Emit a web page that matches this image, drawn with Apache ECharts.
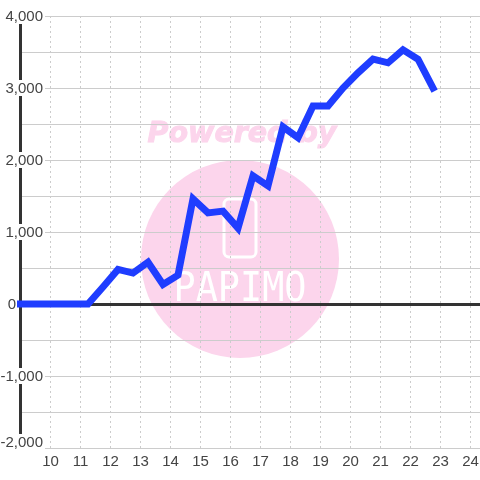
<!DOCTYPE html>
<html><head><meta charset="utf-8">
<style>html,body{margin:0;padding:0;background:#fff}#c{width:480px;height:480px}</style>
<script src="https://cdn.jsdelivr.net/npm/echarts@6/dist/echarts.min.js"></script>
</head><body><div id="c"></div>
<script>
const hours = [9,9.75,10.25,10.75,11.25,11.75,12.25,12.75,13.25,13.75,14.25,14.75,15.25,15.75,16.25,16.75,17.25,17.75,18.25,18.75,19.25,19.75,20.25,20.75,21.25,21.75,22.25,22.75];
const values = [0,0,0,0,0,236,480,430,580,270,400,1460,1265,1290,1055,1780,1640,2460,2310,2750,2750,3000,3210,3400,3350,3530,3400,3000];
const watermarkTop = 'Powered by';
const watermarkBrand = 'PAPIMO';
const fmt = v => v.toLocaleString('en-US');
const chart = echarts.init(document.getElementById('c'), null, {renderer:'canvas'});
const pink = '#fcd5ec';
chart.setOption({
  animation:false,
  backgroundColor:'#fff',
  grid:{left:20.5,right:0,top:16,bottom:32,outerBoundsMode:'none',containLabel:false},
  graphic:[
    {type:'circle',z:-10,shape:{cx:240,cy:259,r:99},style:{fill:pink},silent:true},
    {type:'text',z:-10,x:242,y:135,silent:true,style:{text:watermarkTop,fill:pink,stroke:pink,lineWidth:1,align:'center',verticalAlign:'middle',font:'italic bold 28.5px "DejaVu Sans"'}},
    {type:'rect',z:-9,shape:{x:224,y:199,width:32,height:58,r:5},style:{fill:'none',stroke:'#fff',lineWidth:3},silent:true},
    {type:'text',z:-9,x:240,y:291,scaleX:1.15,scaleY:1.25,silent:true,style:{text:watermarkBrand,fill:'#fff',align:'center',verticalAlign:'middle',font:'200 32px "DejaVu Sans Mono"'}}
  ],
  xAxis:{type:'value',min:9,max:9+459.5/30,interval:1,
    axisLine:{show:false},axisTick:{show:false},
    splitLine:{show:true,lineStyle:{color:'#ccc',type:[2,3],width:1}},
    axisLabel:{color:'#444',fontSize:15,fontFamily:'"Liberation Sans"',margin:6,
      showMaxLabel:false,
      formatter:v=>(v===9||v%1!==0)?'':String(v)}},
  yAxis:{type:'value',min:-2000,max:4000,interval:500,
    axisLine:{show:true,onZero:false,lineStyle:{color:'#333',width:3}},axisTick:{show:false},
    splitLine:{show:true,lineStyle:{color:'#ccc',width:1.2}},
    z:3,
    axisLabel:{color:'#444',margin:-24.5,align:'right',fontSize:15,fontFamily:'"Liberation Sans"',
      formatter:v=>v%1000!==0?'':(v===0?'{zero|0}':(v===-2000?'{low|'+fmt(v)+'}':'{std|'+fmt(v)+'}')),
      rich:{
        std:{backgroundColor:'#fff',padding:[1,2,0,6],fontSize:15,color:'#444',fontFamily:'"Liberation Sans"'},
        low:{backgroundColor:'#fff',padding:[1,2,12,2],fontSize:15,color:'#444',fontFamily:'"Liberation Sans"'},
        zero:{padding:[1,29,0,0],fontSize:15,color:'#444',fontFamily:'"Liberation Sans"'}
      }}},
  series:[
    {type:'line',z:1,data:[],silent:true,markLine:{silent:true,symbol:'none',label:{show:false},animation:false,
      lineStyle:{color:'#333',width:3,type:'solid'},data:[{yAxis:0}]}},
    {type:'line',z:5,data:hours.map((h,i)=>[h,values[i]]),showSymbol:false,symbol:'none',
      lineStyle:{color:'#1f3dff',width:7,cap:'square',join:'miter'}}
  ]
});
</script></body></html>
